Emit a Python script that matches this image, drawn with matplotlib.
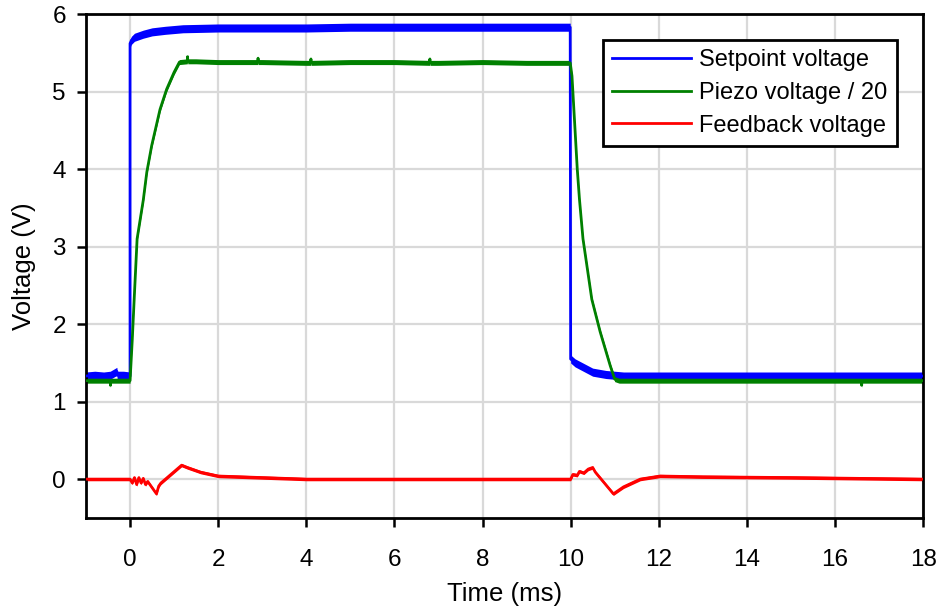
import matplotlib
matplotlib.use("Agg")
import matplotlib.pyplot as plt
import numpy as np

plt.rcParams["font.family"] = ["Liberation Sans", "DejaVu Sans"]

# Setpoint voltage trace (time in ms, volts)
setpoint_t = [-1.0, -0.8, -0.6, -0.45, -0.3, -0.29, -0.15, 0.0, 0.0, 0.03, 0.1, 0.3, 0.5,
              0.8, 1.2, 2.0, 3.0, 4.0, 5.0, 6.0, 7.0, 8.0, 9.0, 9.99, 10.0, 10.1,
              10.3, 10.5, 10.8, 11.2, 12.0, 14.0, 16.0, 18.0]
setpoint_v = [1.33, 1.34, 1.33, 1.34, 1.39, 1.34, 1.34, 1.33, 5.62, 5.66, 5.70, 5.74, 5.77,
              5.79, 5.81, 5.82, 5.82, 5.82, 5.83, 5.83, 5.83, 5.83, 5.83, 5.83, 1.55, 1.50,
              1.44, 1.38, 1.35, 1.33, 1.33, 1.33, 1.33, 1.33]

# Piezo voltage divided by 20
piezo_t = [-1.0, -0.7, -0.45, -0.445, -0.44, -0.2, 0.0, 0.05, 0.1, 0.16, 0.3, 0.38, 0.49,
           0.68, 0.83, 1.0, 1.12, 1.3, 1.305, 1.31, 1.5, 2.0, 2.9, 2.905, 2.91, 3.0, 4.0,
           4.1, 4.105, 4.11, 5.0, 6.0, 6.8, 6.805, 6.81, 7.0, 8.0, 9.0, 9.99, 10.03,
           10.06, 10.15, 10.2, 10.28, 10.48, 10.67, 10.9, 11.0, 11.1, 12.0, 13.0, 14.0,
           15.0, 16.6, 16.605, 16.61, 17.0, 18.0]
piezo_v = [1.27, 1.27, 1.27, 1.21, 1.27, 1.27, 1.27, 1.80, 2.40, 3.10, 3.60, 3.96, 4.30,
           4.77, 5.03, 5.25, 5.38, 5.39, 5.45, 5.39, 5.39, 5.38, 5.38, 5.43, 5.38, 5.38, 5.37,
           5.37, 5.42, 5.37, 5.38, 5.38, 5.37, 5.42, 5.37, 5.37, 5.38, 5.37, 5.37, 5.20,
           4.90, 4.00, 3.61, 3.10, 2.32, 1.90, 1.46, 1.29, 1.27, 1.27, 1.27, 1.27,
           1.27, 1.27, 1.21, 1.27, 1.27, 1.27]

# Feedback voltage
feedback_t = [-1.0, -0.5, 0.0, 0.05, 0.1, 0.15, 0.2, 0.25, 0.3, 0.35, 0.4, 0.6,
              0.65, 0.7, 1.17, 1.3, 1.6, 2.0, 3.0, 4.0, 6.0, 8.0, 9.9, 10.0, 10.05,
              10.15, 10.2, 10.3, 10.4, 10.5, 10.56, 10.97, 11.2, 11.58, 12.03, 13.0,
              15.0, 18.0]
feedback_v = [0.0, 0.0, 0.0, -0.05, 0.02, -0.07, 0.02, -0.05, 0.01, -0.07, -0.03, -0.19,
              -0.09, -0.05, 0.18, 0.15, 0.09, 0.04, 0.02, 0.0, 0.0, 0.0, 0.0, 0.0, 0.06,
              0.05, 0.10, 0.08, 0.13, 0.15, 0.09, -0.19, -0.10, 0.0, 0.04, 0.03,
              0.02, 0.0]

# label, times, values, colour, half-width of the noise band (V)
series = [
    ("Setpoint voltage", setpoint_t, setpoint_v, "#0000ff", 0.052),
    ("Piezo voltage / 20", piezo_t, piezo_v, "#008000", 0.032),
    ("Feedback voltage", feedback_t, feedback_v, "#ff0000", 0.021),
]

fig = plt.figure(figsize=(9.41, 6.10), dpi=100)
ax = fig.add_axes([0.0914, 0.151, 0.8896, 0.826])

for label, t, v, color, noise in series:
    t = np.asarray(t)
    v = np.asarray(v)
    ax.fill_between(t, v - noise, v + noise, color=color, linewidth=0, zorder=2)
    ax.plot(t, v, color=color, lw=2.0, label=label, zorder=3)

ax.set_xlim(-1, 18)
ax.set_ylim(-0.5, 6)
ax.set_xticks(np.arange(0, 19, 2))
ax.set_yticks(np.arange(0, 7, 1))
ax.grid(True, color="#d9d9d9", lw=1.6, zorder=0)
ax.set_axisbelow(True)

for s in ax.spines.values():
    s.set_linewidth(2.0)
    s.set_color("black")
ax.tick_params(direction="out", length=6.5, width=1.8, labelsize=17.5)
ax.tick_params(axis="x", pad=16)
ax.tick_params(axis="y", pad=8)

ax.set_xlabel("Time (ms)", fontsize=18.5, labelpad=8)
ax.set_ylabel("Voltage (V)", fontsize=18.5, labelpad=11.5)

leg = ax.legend(loc="upper right", fontsize=17, frameon=True, fancybox=False,
                edgecolor="black", framealpha=1, borderaxespad=1.1,
                handlelength=3.35, handletextpad=0.35, labelspacing=0.45,
                borderpad=0.4)
leg.get_frame().set_linewidth(2.0)

fig.savefig("out.png", dpi=100)
